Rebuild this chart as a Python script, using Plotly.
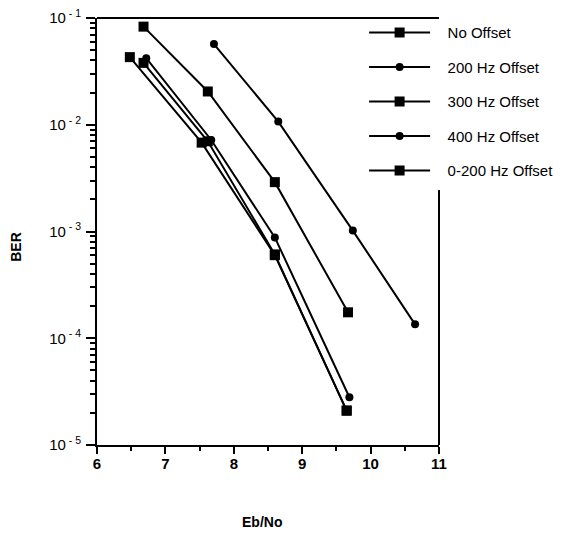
import plotly.graph_objects as go

# ---- data ----
series_names = ["No Offset", "200 Hz Offset", "300 Hz Offset", "400 Hz Offset", "0-200 Hz Offset"]
series_symbols = ["square", "circle", "square", "circle", "square"]

ebno_no_offset = [6.68, 7.62, 8.60, 9.65]
ber_no_offset = [0.038, 0.0070, 6.1e-4, 2.1e-5]

ebno_200 = [6.72, 7.67, 8.60, 9.69]
ber_200 = [0.042, 0.0072, 8.8e-4, 2.8e-5]

ebno_300 = [6.68, 7.62, 8.60, 9.67]
ber_300 = [0.083, 0.0205, 0.0029, 1.75e-4]

ebno_400 = [7.71, 8.65, 9.74, 10.65]
ber_400 = [0.057, 0.0107, 0.00102, 1.35e-4]

ebno_0_200 = [6.48, 7.53, 8.60, 9.65]
ber_0_200 = [0.043, 0.0068, 6.0e-4, 2.1e-5]

x_tick_vals = [6, 7, 8, 9, 10, 11]
x_tick_text = ["6", "7", "8", "9", "10", "11"]
y_tick_vals = [1e-5, 1e-4, 1e-3, 1e-2, 1e-1]
y_tick_text = ["10<sup> - 5</sup>", "10<sup> - 4</sup>", "10<sup> - 3</sup>",
               "10<sup> - 2</sup>", "10<sup> - 1</sup>"]

xs = [ebno_no_offset, ebno_200, ebno_300, ebno_400, ebno_0_200]
ys = [ber_no_offset, ber_200, ber_300, ber_400, ber_0_200]

FONT = "Arial, 'Liberation Sans', Helvetica, sans-serif"
PAD = "\u00a0\u00a0\u00a0"  # gap between legend symbol and its label

fig = go.Figure()
for i, (name, sym, x, y) in enumerate(zip(series_names, series_symbols, xs, ys)):
    fig.add_trace(go.Scatter(
        x=x, y=y, name=PAD + name, mode="lines+markers",
        legendgroup="g%d" % i,
        line=dict(color="black", width=2),
        marker=dict(symbol=sym, size=10 if sym == "square" else 8, color="black"),
    ))

# the page body has an 8px default margin, so the figure is 8px smaller
fig.update_layout(
    width=559, height=525,
    margin=dict(l=89, r=128, t=10, b=88, autoexpand=False),
    paper_bgcolor="white", plot_bgcolor="white",
    font=dict(family=FONT, color="black"),
    showlegend=True,
    legend=dict(
        x=0.781, y=1.004, xanchor="left", yanchor="top",
        bgcolor="rgba(0,0,0,0)", borderwidth=0,
        font=dict(size=15, family=FONT, color="black"),
        itemwidth=61, tracegroupgap=12,
    ),
    xaxis=dict(
        range=[6, 11], showgrid=False, zeroline=False,
        showline=True, linecolor="black", linewidth=2,
        ticks="outside", ticklen=7, tickwidth=2, tickcolor="black",
        tickvals=x_tick_vals, ticktext=x_tick_text,
        tickfont=dict(size=15, family=FONT, weight="bold"),
        ticklabelstandoff=-3,
        minor=dict(ticks="outside", ticklen=4, tickwidth=2, tickcolor="black", dtick=0.5),
    ),
    yaxis=dict(
        type="log", range=[-5, -1], showgrid=False, zeroline=False,
        showline=True, linecolor="black", linewidth=2,
        ticks="outside", ticklen=9, tickwidth=2, tickcolor="black",
        tickvals=y_tick_vals, ticktext=y_tick_text,
        tickfont=dict(size=15, family=FONT),
        ticklabelstandoff=2,
        ticklabeloverflow="allow",
        minor=dict(ticks="outside", ticklen=5, tickwidth=2, tickcolor="black", dtick="D1"),
    ),
    shapes=[
        dict(type="line", xref="paper", yref="paper", x0=0, x1=1, y0=1, y1=1,
             line=dict(color="black", width=2)),
        dict(type="line", xref="paper", yref="paper", x0=1, x1=1, y0=0, y1=0.597,
             line=dict(color="black", width=2)),
    ],
    annotations=[
        dict(text="<b>BER</b>", xref="paper", yref="paper", x=-0.237, y=0.464,
             xanchor="center", yanchor="middle",
             textangle=-90, showarrow=False, font=dict(size=14, family=FONT)),
        dict(text="<b>Eb/No</b>", xref="paper", yref="paper", x=0.482, y=-0.18,
             xanchor="center", yanchor="middle",
             showarrow=False, font=dict(size=14, family=FONT)),
    ],
)

fig.write_html("out.html")
